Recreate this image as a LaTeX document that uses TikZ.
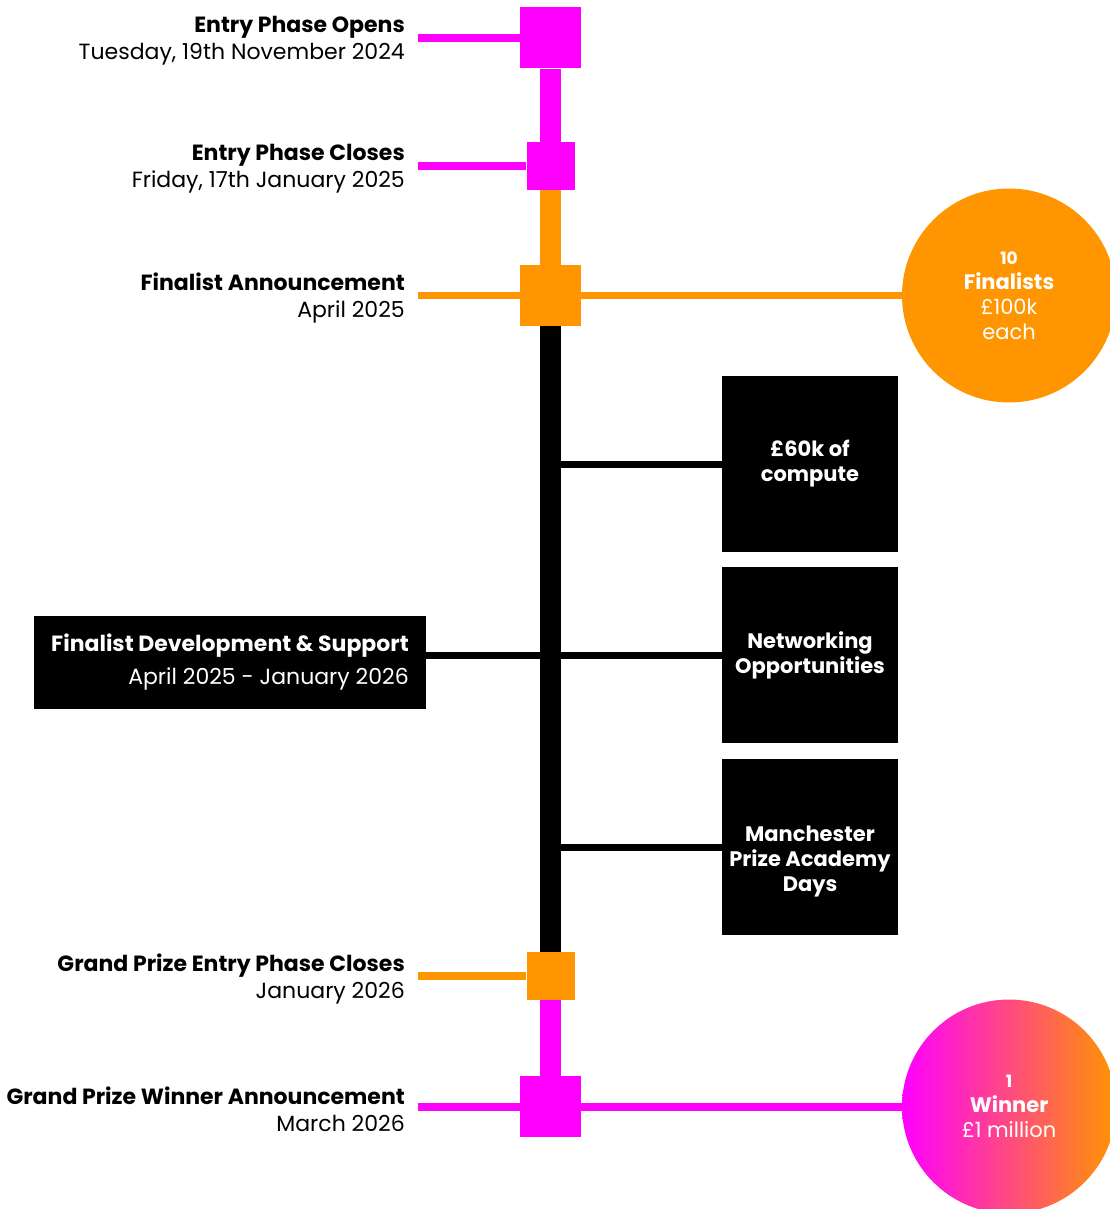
\documentclass[tikz,border=0pt]{standalone}
\usepackage{fontspec}
\setmainfont{Poppins}
\usepackage{xcolor}
\usetikzlibrary{positioning,backgrounds,shapes}
\definecolor{mprize}{HTML}{FF00FF}
\definecolor{morange}{HTML}{FF9500}

\begin{document}
\begin{tikzpicture}[x=1pt,y=-1pt,
  every node/.style={font=\fontsize{22}{27}\selectfont},
  bigsq/.style={rectangle,inner sep=0,minimum size=61pt},
  smallsq/.style={rectangle,inner sep=0,minimum size=48pt},
  when/.style={anchor=east,align=right,inner xsep=13pt,inner ysep=0},
  blackbox/.style={fill=black,text=white,minimum width=176pt,minimum height=176pt,
    align=center,inner sep=0,font=\fontsize{21}{25}\selectfont\bfseries},
  prize/.style={circle,minimum size=214pt,inner sep=0,text=white,align=center,
    font=\fontsize{21}{25}\selectfont},
  tick/.style={line width=8pt},
  bar/.style={line width=21pt},
  branch/.style={line width=7pt,black}]
\useasboundingbox (0,0) rectangle (1110,1209);

% milestones on the bar
\node[bigsq,fill=mprize] (opens) at (550.5,38) {};
\node[smallsq,fill=mprize] (closes) at (550.5,166) {};
\node[bigsq,fill=morange] (finals) at (550.5,295.5) {};
\node[smallsq,fill=morange] (gpcloses) at (550.5,976) {};
\node[bigsq,fill=mprize] (gpwinner) at (550.5,1106.5) {};

% dates
\node[when] (opensl) at (418,41) {\textbf{Entry Phase Opens}\\Tuesday, 19th November 2024};
\node[when] (closesl) at (418,169) {\textbf{Entry Phase Closes}\\Friday, 17th January 2025};
\node[when] (finalsl) at (418,298.5) {\textbf{Finalist Announcement}\\April 2025};
\node[when] (gpclosesl) at (418,979) {\textbf{Grand Prize Entry Phase Closes}\\January 2026};
\node[when] (gpwinnerl) at (418,1109.5) {\textbf{Grand Prize Winner Announcement}\\March 2026};

% prizes
\node[prize,fill=morange] (tenfin) at (1009,295.5) {{\fontsize{17}{25}\selectfont\bfseries 10}\\\textbf{Finalists}\\£100k\\each};
\node[prize,left color=mprize,right color=morange] (onewin) at (1009,1106.5) {{\fontsize{17}{25}\selectfont\bfseries 1}\\\textbf{Winner}\\£1 million};

% support
\node[fill=black,text=white,minimum width=392pt,align=right,minimum height=93pt,
  font=\fontsize{22}{33}\selectfont] (devel) at (230,662.5)
  {\textbf{Finalist Development \& Support}\\April 2025 - January 2026};
\node[blackbox] (compute) at (810,464) {£60k of\\compute};
\node[blackbox] (network) at (810,655) {Networking\\Opportunities};
\node[blackbox] (academy) at (810,847) {\rule{0pt}{44pt}Manchester\\Prize Academy\\Days};

\begin{scope}[on background layer]
\draw[tick,mprize] (opens) -- (opens -| opensl.east);
\draw[tick,mprize] (closes) -- (closes -| closesl.east);
\draw[tick,morange,line width=7pt] (finals -| finalsl.east) -- (finals) -- (tenfin);
\draw[tick,morange] (gpcloses) -- (gpcloses -| gpclosesl.east);
\draw[tick,mprize] (gpwinner -| gpwinnerl.east) -- (gpwinner) -- (onewin);
\draw[bar,mprize] (opens) -- (closes);
\draw[bar,morange] (closes) -- (finals);
\draw[bar,black] (finals) -- (gpcloses);
\draw[bar,mprize] (gpcloses) -- (gpwinner);
\draw[branch] (devel.east |- network) -- (finals |- network);
\draw[branch] (finals |- compute.west) -- (compute.west);
\draw[branch] (finals |- network.west) -- (network.west);
\draw[branch] (finals |- academy.west) -- (academy.west);
\end{scope}
\end{tikzpicture}
\end{document}
